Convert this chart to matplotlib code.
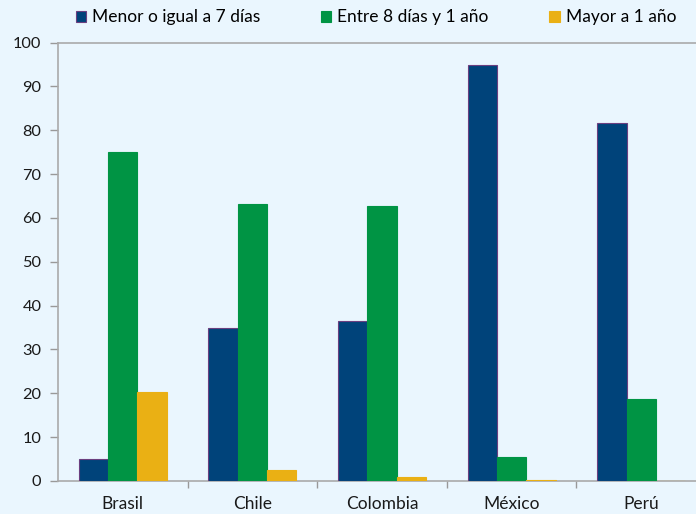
import matplotlib
matplotlib.use("Agg")
import matplotlib.pyplot as plt
from matplotlib.patches import Patch
import numpy as np

categories = ["Brasil", "Chile", "Colombia", "México", "Perú"]
series_names = ["Menor o igual a 7 días", "Entre 8 días y 1 año", "Mayor a 1 año"]
menor_7 = [5.0, 34.9, 36.5, 94.8, 81.6]
entre_8_1 = [75.1, 63.2, 62.8, 5.4, 18.6]
mayor_1 = [20.3, 2.4, 0.9, 0.3, 0.0]
yticks = [0, 10, 20, 30, 40, 50, 60, 70, 80, 90, 100]

colors = ["#00437A", "#009444", "#EAB014"]
edges = ["#6B3F7F", "#009444", "#EAB014"]
bg = "#EAF6FE"

plt.rcParams['font.family'] = ['Lato', 'DejaVu Sans']

fig = plt.figure(figsize=(6.96, 5.14), dpi=100, facecolor=bg)
ax = fig.add_axes([58/696, 33/514, 648/696, 438.5/514], facecolor=bg)

x = np.arange(len(categories))
w = 0.226
for i, (vals, c, e) in enumerate(zip([menor_7, entre_8_1, mayor_1], colors, edges)):
    ax.bar(x + (i - 1) * w, vals, width=w, color=c, edgecolor=e, linewidth=0.8, zorder=3)

ax.set_xlim(-0.5, 4.5)
ax.set_ylim(0, 100)
ax.set_yticks(yticks)
ax.set_yticklabels([str(t) for t in yticks], fontsize=11.8, color="#1a1a1a")
ax.set_xticks(x)
ax.set_xticklabels(categories, fontsize=12.5, color="#1a1a1a")
ax.tick_params(axis='x', which='major', length=0, pad=11)
ax.set_xticks(x[:-1] + 0.5, minor=True)
ax.tick_params(axis='x', which='minor', length=5, color="#999999", width=1)
ax.tick_params(axis='y', length=6, color="#999999", width=1, pad=6)

for s in ["left", "bottom", "top"]:
    ax.spines[s].set_color("#AAAAAA")
    ax.spines[s].set_linewidth(1.2)
ax.spines["right"].set_visible(False)

handles = [Patch(facecolor=c, edgecolor=e, linewidth=0.8) for c, e in zip(colors, edges)]
fig.legend(handles, series_names, loc="center left", bbox_to_anchor=(76/696, 0.966), ncol=3,
           frameon=False, fontsize=12.5, handlelength=0.58, handleheight=0.58,
           handletextpad=0.35, columnspacing=3.5, borderaxespad=0, borderpad=0)

fig.savefig("out.png", dpi=100, facecolor=bg)
